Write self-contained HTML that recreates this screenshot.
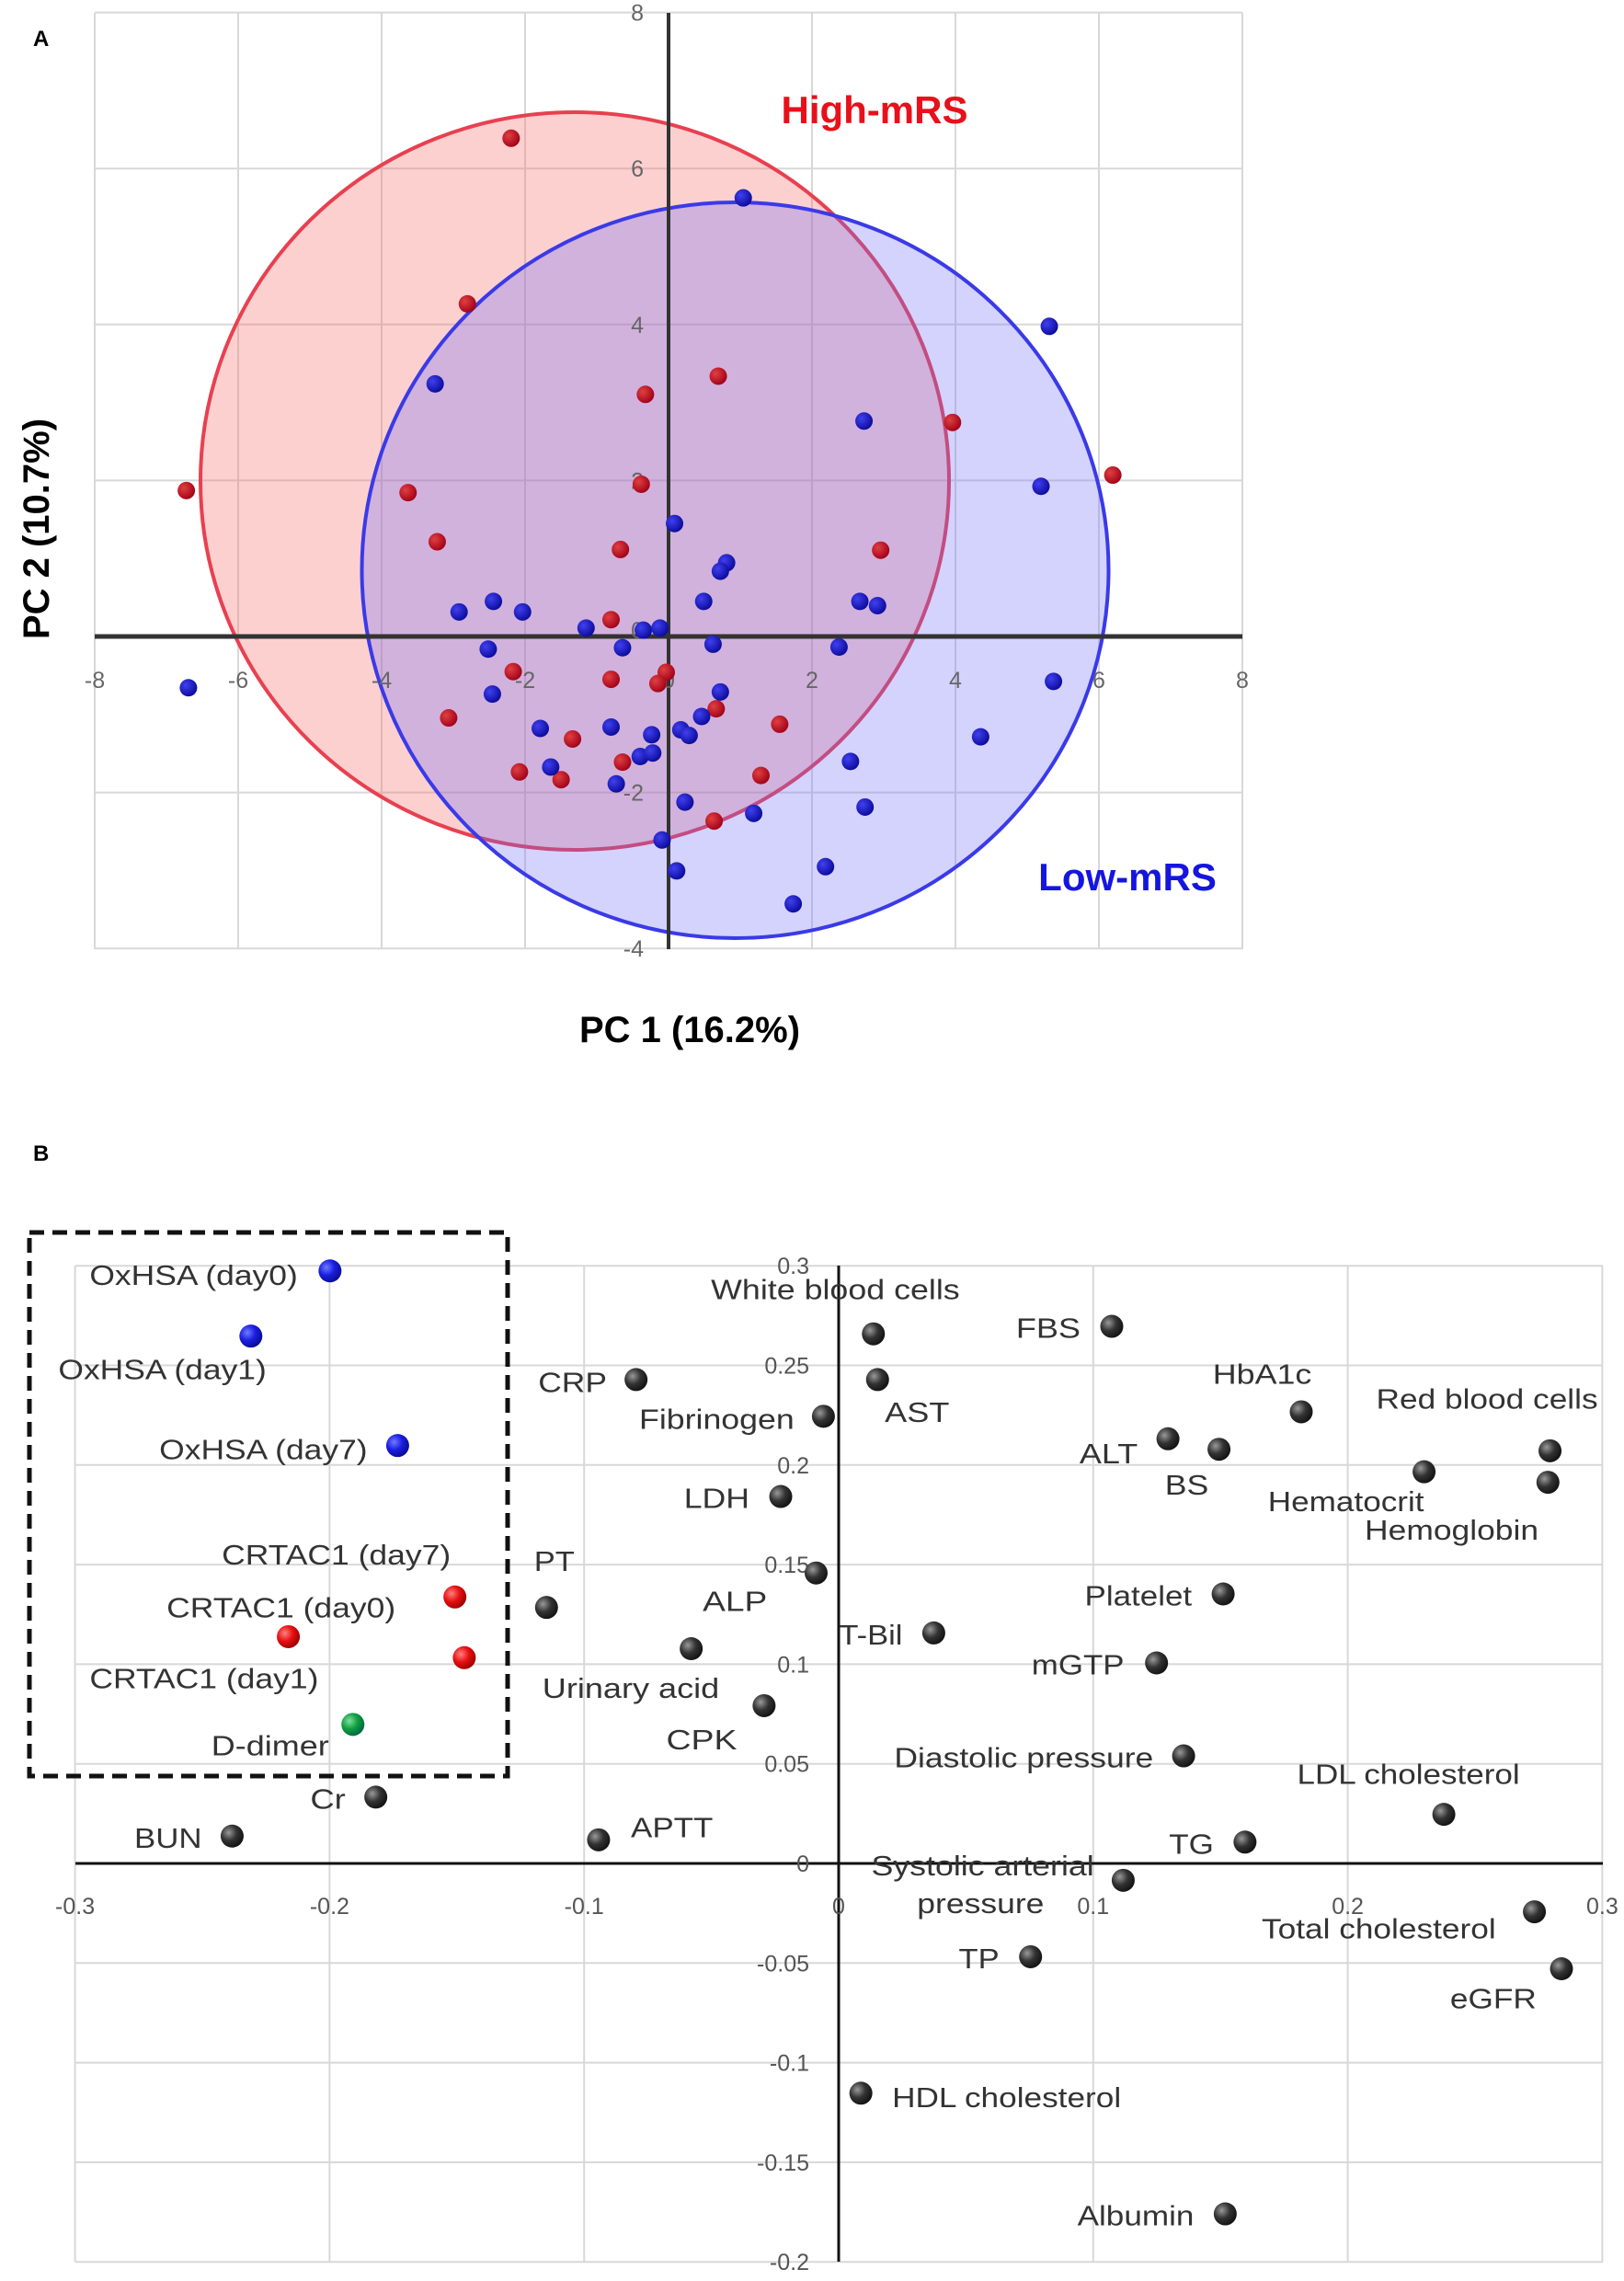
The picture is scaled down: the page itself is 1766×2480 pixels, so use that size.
<!DOCTYPE html>
<html><head><meta charset="utf-8">
<style>
html,body{margin:0;padding:0;background:#fff;}
svg{display:block;font-family:"Liberation Sans",sans-serif;}
</style></head>
<body>
<svg id="s" width="1766" height="2480" viewBox="0 0 1766 2480" xmlns="http://www.w3.org/2000/svg">
<defs>
<radialGradient id="gk" cx="0.35" cy="0.35" r="0.7"><stop offset="0" stop-color="#999"/><stop offset="0.5" stop-color="#333"/><stop offset="1" stop-color="#111"/></radialGradient>
<radialGradient id="gb" cx="0.35" cy="0.35" r="0.7"><stop offset="0" stop-color="#6f7bff"/><stop offset="0.5" stop-color="#1a1ee0"/><stop offset="1" stop-color="#0a0a90"/></radialGradient>
<radialGradient id="gr" cx="0.35" cy="0.35" r="0.7"><stop offset="0" stop-color="#ff8080"/><stop offset="0.5" stop-color="#e81010"/><stop offset="1" stop-color="#900"/></radialGradient>
<radialGradient id="gg" cx="0.35" cy="0.35" r="0.7"><stop offset="0" stop-color="#80e0a0"/><stop offset="0.5" stop-color="#10a040"/><stop offset="1" stop-color="#064"/></radialGradient>
<radialGradient id="pr" cx="0.35" cy="0.35" r="0.7"><stop offset="0" stop-color="#e04040"/><stop offset="1" stop-color="#a00018"/></radialGradient>
<radialGradient id="pb" cx="0.35" cy="0.35" r="0.7"><stop offset="0" stop-color="#4040f0"/><stop offset="1" stop-color="#0a0a9a"/></radialGradient>
</defs>
</svg>
<script>
(function(){
var s=document.getElementById('s'),NS='http://www.w3.org/2000/svg';
function el(t,a,txt){var e=document.createElementNS(NS,t);for(var k in a)e.setAttribute(k,a[k]);if(txt!=null)e.textContent=txt;s.appendChild(e);return e;}
// ---------- Panel A ----------
var ax0=727,ay0=692,ux=78,uy=84.8;
el('text',{x:36,y:50,'font-size':24,'font-weight':'bold'},'A');
for(var v=-8;v<=8;v+=2){var x=ax0+v*ux;el('line',{x1:x,y1:14,x2:x,y2:1032,stroke:'#d8d8d8','stroke-width':2});}
for(var v=-4;v<=8;v+=2){var y=ay0-v*uy;el('line',{x1:103,y1:y,x2:1351,y2:y,stroke:'#d8d8d8','stroke-width':2});}
el('ellipse',{cx:625,cy:523,rx:407,ry:401,fill:'rgba(250,110,110,0.32)',stroke:'#e84050','stroke-width':4});
el('ellipse',{cx:799.5,cy:620,rx:406,ry:400,fill:'rgba(110,110,250,0.3)',stroke:'#3a3ae8','stroke-width':4});
el('line',{x1:103,y1:ay0,x2:1351,y2:ay0,stroke:'#333','stroke-width':5});
el('line',{x1:ax0,y1:14,x2:ax0,y2:1032,stroke:'#333','stroke-width':4});
for(var v=-8;v<=8;v+=2){el('text',{x:ax0+v*ux,y:748,'font-size':25,fill:'#666','text-anchor':'middle'},String(v));}
for(var v=-4;v<=8;v+=2){if(v==0)continue;el('text',{x:700,y:ay0-v*uy+9,'font-size':25,fill:'#666','text-anchor':'end'},String(v));}
el('text',{x:700,y:ay0+2,'font-size':25,fill:'#666','text-anchor':'end'},'0');
var red=[[491,197],[449,433],[690,536],[620,562],[915,602],[179,699],[392,702],[616,690],[1069,677],[420,772],[596,783],[846,784],[587,883],[493,957],[587,968],[640,958],[632,974],[688,1010],[431,1023],[550,1053],[749,1032],[499,1100],[539,1111],[598,1086],[731,1105],[686,1170]];
var blue=[[714,282],[1008,465],[418,547],[830,600],[1000,693],[648,746],[698,802],[692,814],[474,857],[441,872],[502,872],[676,857],[826,857],[843,863],[563,895],[618,898],[634,895],[685,918],[598,923],[806,922],[469,925],[181,980],[1012,971],[692,986],[473,989],[674,1021],[519,1038],[587,1036],[626,1047],[654,1040],[662,1048],[942,1050],[817,1085],[615,1078],[627,1073],[529,1093],[592,1117],[658,1143],[724,1159],[831,1150],[636,1197],[650,1241],[793,1235],[762,1288]];
red.forEach(function(p){el('circle',{cx:p[0]*1.132,cy:p[1]*0.763,r:9.5,fill:'url(#pr)'});});
blue.forEach(function(p){el('circle',{cx:p[0]*1.132,cy:p[1]*0.763,r:9.5,fill:'url(#pb)'});});
el('text',{x:951,y:134,'font-size':42,'font-weight':'bold',fill:'#e8101a','text-anchor':'middle'},'High-mRS');
el('text',{x:1226,y:968,'font-size':42,'font-weight':'bold',fill:'#1515e0','text-anchor':'middle'},'Low-mRS');
el('text',{x:750,y:1133,'font-size':40,'font-weight':'bold','text-anchor':'middle'},'PC 1 (16.2%)');
el('text',{x:0,y:0,'font-size':40,'font-weight':'bold','text-anchor':'middle',transform:'translate(53,575) rotate(-90)'},'PC 2 (10.7%)');
// ---------- Panel B ----------
function X(z){return z*1.132;} function Y(z){return 1200+z*0.815;}
var bx0=912,by0=2026,bux=2768,buy=2166;
el('text',{x:36,y:1262,'font-size':24,'font-weight':'bold'},'B');
for(var i=-3;i<=3;i++){var x=bx0+i*0.1*bux;el('line',{x1:x,y1:1376,x2:x,y2:2459,stroke:'#d8d8d8','stroke-width':2});}
for(var i=-4;i<=6;i++){var y=by0-i*0.05*buy;el('line',{x1:82,y1:y,x2:1743,y2:y,stroke:'#d8d8d8','stroke-width':2});}
el('line',{x1:82,y1:by0,x2:1743,y2:by0,stroke:'#111','stroke-width':3});
el('line',{x1:bx0,y1:1376,x2:bx0,y2:2459,stroke:'#111','stroke-width':3});
var xl=['-0.3','-0.2','-0.1','0','0.1','0.2','0.3'];
for(var i=0;i<7;i++){el('text',{x:bx0+(i-3)*0.1*bux,y:2081,'font-size':25,fill:'#555','text-anchor':'middle'},xl[i]);}
var yl=[['0.3',0.3],['0.25',0.25],['0.2',0.2],['0.15',0.15],['0.1',0.1],['0.05',0.05],['0',0],['-0.05',-0.05],['-0.1',-0.1],['-0.15',-0.15],['-0.2',-0.2]];
yl.forEach(function(t){el('text',{x:880,y:by0-t[1]*buy+9,'font-size':25,fill:'#555','text-anchor':'end'},t[0]);});
el('rect',{x:32,y:1340,width:520,height:591,fill:'none',stroke:'#111','stroke-width':5,'stroke-dasharray':'16,9'});
var pts=[[317,223,'gb'],[241,310,'gb'],[382,456,'gb'],[437,658,'gr'],[277,711,'gr'],[446,739,'gr'],[339,828,'gg'],
[361,925],[223,977],[575,982],[525,672],[664,727],[734,803],[611,368],[791,417],[750,524],[784,626],[839,307],[843,368],[897,706],[1068,297],[1250,411],[1122,447],[1171,461],[1368,491],[1489,463],[1487,505],[1175,654],[1111,746],[1137,870],[1387,948],[1196,985],[1079,1036],[1474,1078],[1500,1154],[990,1138],[827,1320],[1177,1481]];
pts.forEach(function(p){el('circle',{cx:X(p[0]),cy:Y(p[1]),r:12.5,fill:'url(#'+(p[2]||'gk')+')'});});
var labs=[['OxHSA (day0)',86,286,228],['OxHSA (day1)',56,256,354],['OxHSA (day7)',153,353,461],['CRTAC1 (day7)',213,433,601],['CRTAC1 (day0)',160,380,672],['CRTAC1 (day1)',86,306,766],['D-dimer',203,316,856],['Cr',298,332,927],['BUN',129,194,979],['APTT',606,685,965],['PT',513,552,610],['ALP',675,737,663],['Urinary acid',521,691,779],['CPK',640,708,848],['CRP',517,583,371],['Fibrinogen',614,763,420],['LDH',657,720,526],['White blood cells',683,922,247],['AST',850,912,411],['T-Bil',806,867,708],['FBS',976,1038,299],['HbA1c',1165,1260,360],['Red blood cells',1322,1535,393],['ALT',1037,1093,466],['BS',1119,1161,508],['Hematocrit',1218,1368,530],['Hemoglobin',1311,1478,568],['Platelet',1042,1145,656],['mGTP',991,1080,748],['Diastolic pressure',859,1108,872],['LDL cholesterol',1246,1460,894],['TG',1123,1166,987],['Systolic arterial',837,1051,1016],['pressure',881,1003,1066],['Total cholesterol',1212,1437,1100],['eGFR',1393,1476,1193],['TP',921,960,1140],['HDL cholesterol',857,1077,1325],['Albumin',1035,1147,1483]];
labs.forEach(function(l){el('text',{x:X(l[1]),y:Y(l[3])+11,'font-size':31,fill:'#333',textLength:X(l[2]-l[1]),lengthAdjust:'spacingAndGlyphs'},l[0]);});
})();
</script>
</body></html>
